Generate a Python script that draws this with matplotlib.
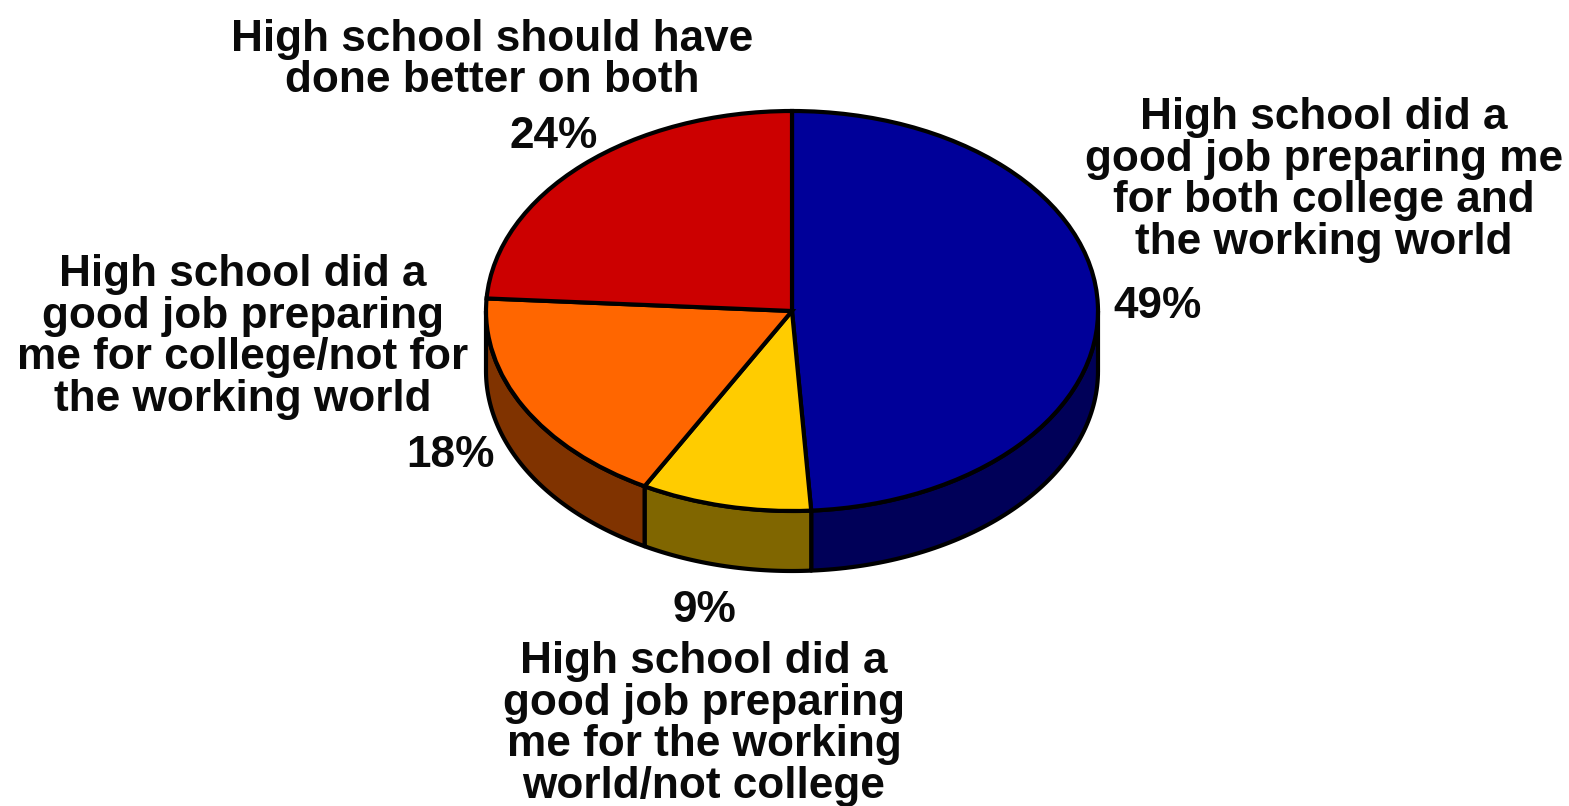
"""Survey results pie with an extruded rim, drawn on a squashed axes."""

import matplotlib
matplotlib.use("Agg")
import matplotlib.pyplot as plt
import numpy as np

W, H = 1569, 806

shares = [49, 9, 18, 24]
top_colors = ["#000099", "#FFCC00", "#FF6600", "#CC0000"]
rim_colors = ["#000058", "#806600", "#803300", "#660000"]
pct_labels = ["49%", "9%", "18%", "24%"]
labels = [
    "High school did a\ngood job preparing me\nfor both college and\nthe working world",
    "High school did a\ngood job preparing\nme for the working\nworld/not college",
    "High school did a\ngood job preparing\nme for college/not for\nthe working world",
    "High school should have\ndone better on both",
]

# pixel placement of the pie and its texts
CX, CY, RX, RY, DEPTH = 792, 311, 306, 200, 60
pct_pos = [(1157, 307), (704, 611), (450, 455), (554, 136)]
label_pos = [(1324, 180), (704, 724), (243, 337), (492, 60)]

plt.rcParams["font.family"] = ["Liberation Sans", "DejaVu Sans"]

fig = plt.figure(figsize=(W / 100, H / 100), dpi=100)

# one data unit is RX pixels across and RY pixels down, which flattens the circle
ax = fig.add_axes([(CX - RX * 1.2) / W, 1 - (CY + RY * 1.5) / H, RX * 2.4 / W, RY * 3 / H])

edges = np.cumsum([0] + shares) / sum(shares) * 2 * np.pi
drop = DEPTH / RY

# rim first, only for the part of each slice facing the viewer
for start, end, color in zip(edges[:-1], edges[1:], rim_colors):
    # clockwise angle from the top; the front is between 90 and 270 degrees
    lo, hi = max(start, np.pi / 2), min(end, 3 * np.pi / 2)
    if lo >= hi:
        continue
    t = np.linspace(lo, hi, 80)
    xs, ys = np.sin(t), np.cos(t)
    ax.fill(
        np.r_[xs, xs[::-1]], np.r_[ys, ys[::-1] - drop],
        facecolor=color, edgecolor="black", linewidth=3, joinstyle="round",
    )

ax.pie(
    shares, colors=top_colors, startangle=90, counterclock=False, radius=1,
    wedgeprops={"edgecolor": "black", "linewidth": 3},
)
ax.set_aspect("auto")
ax.set_xlim(-1.2, 1.2)
ax.set_ylim(-1.5, 1.5)
ax.axis("off")


def px_text(x, y, s):
    fig.text(
        x / W, 1 - y / H, s, ha="center", va="center", fontsize=31.8,
        fontweight="bold", color="#0a0a0a", linespacing=1.02,
    )


for (x, y), s in zip(pct_pos, pct_labels):
    px_text(x, y, s)
for (x, y), s in zip(label_pos, labels):
    px_text(x, y, s)

fig.savefig("out.png", dpi=100)
